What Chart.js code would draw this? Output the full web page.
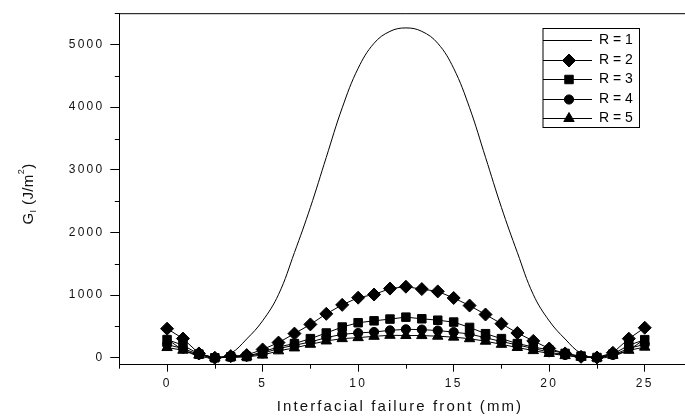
<!DOCTYPE html>
<html>
<head>
<meta charset="utf-8">
<script src="https://cdn.jsdelivr.net/npm/chart.js@4/dist/chart.umd.min.js"></script>
<style>
  html, body { margin: 0; padding: 0; overflow: hidden; background: #fff; }
  #wrap { width: 700px; height: 417px; }
</style>
</head>
<body>
<div id="wrap"><canvas id="chart" width="700" height="417"></canvas></div>
<script>
// positions along the interfacial failure front (mm)
const xValues = [0, 0.833, 1.667, 2.5, 3.333, 4.167, 5, 5.833, 6.667, 7.5, 8.333, 9.167, 10, 10.833, 11.667,
  12.5, 13.333, 14.167, 15, 15.833, 16.667, 17.5, 18.333, 19.167, 20, 20.833, 21.667, 22.5, 23.333, 24.167, 25];

const r1 = [300, 130, 30, 0, 70, 300, 590, 1010, 1680, 2400, 3200, 3990, 4620, 5020, 5210,
  5265, 5210, 5020, 4620, 3990, 3200, 2400, 1680, 1010, 590, 300, 70, 0, 30, 130, 300];
const r2 = [465, 307, 70, 0, 27, 43, 133, 243, 386, 533, 702, 845, 960, 1010, 1105,
  1135, 1097, 1060, 955, 834, 691, 544, 396, 270, 148, 70, 16, 5, 80, 306, 480];
const r3 = [291, 201, 59, 0, 16, 21, 95, 174, 227, 306, 396, 491, 560, 590, 618,
  649, 623, 600, 570, 485, 385, 306, 227, 174, 122, 70, 27, 5, 59, 200, 290];
const r4 = [211, 148, 54, 0, 10, 21, 70, 148, 200, 253, 322, 375, 396, 412, 438,
  455, 450, 435, 410, 380, 320, 260, 205, 150, 90, 45, 15, 0, 45, 150, 215];
const r5 = [164, 121, 43, 0, 8, 16, 43, 111, 158, 216, 269, 306, 322, 343, 359,
  356, 355, 345, 330, 305, 265, 215, 165, 115, 70, 35, 10, 0, 40, 120, 170];

const seriesLabels = ["R = 1", "R = 2", "R = 3", "R = 4", "R = 5"];

const xTicks = [0, 5, 10, 15, 20, 25];
const xMinorTicks = [-2.5, 2.5, 7.5, 12.5, 17.5, 22.5];
const yTicks = [0, 1000, 2000, 3000, 4000, 5000];
const yMinorTicks = [500, 1500, 2500, 3500, 4500, 5500];

const FONT = "'Liberation Sans', Arial, sans-serif";

function points(ys) {
  return xValues.map((x, i) => ({ x: x, y: ys[i] }));
}

function markerSeries(label, ys, style, radius) {
  return {
    label: label,
    data: points(ys),
    borderColor: "#000",
    borderWidth: 1,
    pointStyle: style,
    pointRadius: radius,
    pointBackgroundColor: "#000",
    pointBorderColor: "#000",
    pointBorderWidth: 1,
    tension: 0,
    fill: false,
  };
}

const datasets = [
  {
    label: seriesLabels[0],
    data: points(r1),
    borderColor: "#000",
    borderWidth: 1,
    pointRadius: 0,
    tension: 0.4,
    fill: false,
    order: 10,
  },
  markerSeries(seriesLabels[1], r2, "rectRot", 6.5),
  markerSeries(seriesLabels[2], r3, "rect", 6),
  markerSeries(seriesLabels[3], r4, "circle", 4.6),
  markerSeries(seriesLabels[4], r5, "triangle", 6),
];

// axis decoration, titles and the boxed legend
const decor = {
  id: "decor",
  beforeDraw(chart) {
    chart.ctx.letterSpacing = "2.2px";
  },
  afterDraw(chart) {
    const ctx = chart.ctx;
    const area = chart.chartArea;
    const xs = chart.scales.x;
    const ys = chart.scales.y;
    ctx.save();
    ctx.letterSpacing = "0px";
    ctx.strokeStyle = "#000";
    ctx.lineWidth = 1;

    // top frame line
    ctx.beginPath();
    ctx.moveTo(area.left, area.top + 0.5);
    ctx.lineTo(area.right, area.top + 0.5);
    ctx.stroke();

    // minor ticks
    ctx.beginPath();
    xMinorTicks.forEach(v => {
      const px = Math.round(xs.getPixelForValue(v)) + 0.5;
      ctx.moveTo(px, area.bottom);
      ctx.lineTo(px, area.bottom + 4);
    });
    yMinorTicks.forEach(v => {
      const py = Math.round(ys.getPixelForValue(v)) + 0.5;
      ctx.moveTo(area.left, py);
      ctx.lineTo(area.left - 4.5, py);
    });
    ctx.stroke();

    ctx.fillStyle = "#111";

    // x title
    ctx.letterSpacing = "2.1px";
    ctx.font = "15px " + FONT;
    ctx.textAlign = "center";
    ctx.textBaseline = "middle";
    ctx.fillText("Interfacial failure front (mm)", 400, 407);
    ctx.letterSpacing = "0.4px";

    // y title with sub/superscript
    const parts = [
      { t: "G", size: 15, dy: 0 },
      { t: "I", size: 9, dy: 5 },
      { t: " (J/m", size: 15, dy: 0 },
      { t: "2", size: 9, dy: -7 },
      { t: ")", size: 15, dy: 0 },
    ];
    let total = 0;
    parts.forEach(p => {
      ctx.font = p.size + "px " + FONT;
      p.w = ctx.measureText(p.t).width;
      total += p.w;
    });
    ctx.translate(29, 194);
    ctx.rotate(-Math.PI / 2);
    ctx.textAlign = "left";
    let cx = -total / 2;
    parts.forEach(p => {
      ctx.font = p.size + "px " + FONT;
      ctx.fillText(p.t, cx, p.dy);
      cx += p.w;
    });
    ctx.restore();

    // legend
    ctx.save();
    ctx.letterSpacing = "0px";
    const box = { left: 543, top: 28.5, right: 639.5, bottom: 127.5 };
    ctx.strokeStyle = "#000";
    ctx.lineWidth = 1;
    ctx.strokeRect(box.left, box.top, box.right - box.left, box.bottom - box.top);
    ctx.font = "14px " + FONT;
    ctx.textAlign = "left";
    ctx.textBaseline = "middle";
    chart.data.datasets.forEach((ds, i) => {
      const y = Math.round(box.top + 11.5 + i * 19.6) + 0.5;
      ctx.strokeStyle = "#000";
      ctx.beginPath();
      ctx.moveTo(box.left, y);
      ctx.lineTo(box.left + 49, y);
      ctx.stroke();
      if (ds.pointRadius > 0) {
        ctx.fillStyle = "#000";
        Chart.helpers.drawPoint(ctx, {
          pointStyle: ds.pointStyle,
          radius: ds.pointRadius,
          rotation: 0,
          borderWidth: 1,
        }, box.left + 26, y);
      }
      ctx.fillStyle = "#000";
      ctx.fillText(ds.label, box.left + 56, y);
    });
    ctx.restore();
  },
};

new Chart(document.getElementById("chart"), {
  type: "line",
  data: { datasets: datasets },
  options: {
    responsive: false,
    animation: false,
    devicePixelRatio: 1,
    layout: { padding: { left: 0, top: 10, right: 4.7, bottom: 0 } },
    plugins: {
      legend: { display: false },
      tooltip: { enabled: false },
    },
    scales: {
      x: {
        type: "linear",
        min: -2.5,
        max: 27.5,
        afterFit: s => { s.height = 52.3; },
        afterBuildTicks: s => { s.ticks = xTicks.map(v => ({ value: v })); },
        grid: { drawOnChartArea: false, tickLength: 7, tickColor: "#000", tickWidth: 1 },
        border: { color: "#000", width: 1 },
        ticks: {
          font: { family: FONT, size: 12 },
          color: "#111",
          padding: 5,
          maxRotation: 0,
          autoSkip: false,
          callback: v => String(v),
        },
      },
      y: {
        type: "linear",
        min: -110,
        max: 5500,
        afterFit: s => { s.width = 119.3; },
        afterBuildTicks: s => { s.ticks = yTicks.map(v => ({ value: v })); },
        grid: { drawOnChartArea: false, tickLength: 9, tickColor: "#000", tickWidth: 1 },
        border: { color: "#000", width: 1 },
        ticks: {
          font: { family: FONT, size: 12 },
          color: "#111",
          padding: 6,
          autoSkip: false,
          callback: v => String(v),
        },
      },
    },
  },
  plugins: [decor],
});
</script>
</body>
</html>
